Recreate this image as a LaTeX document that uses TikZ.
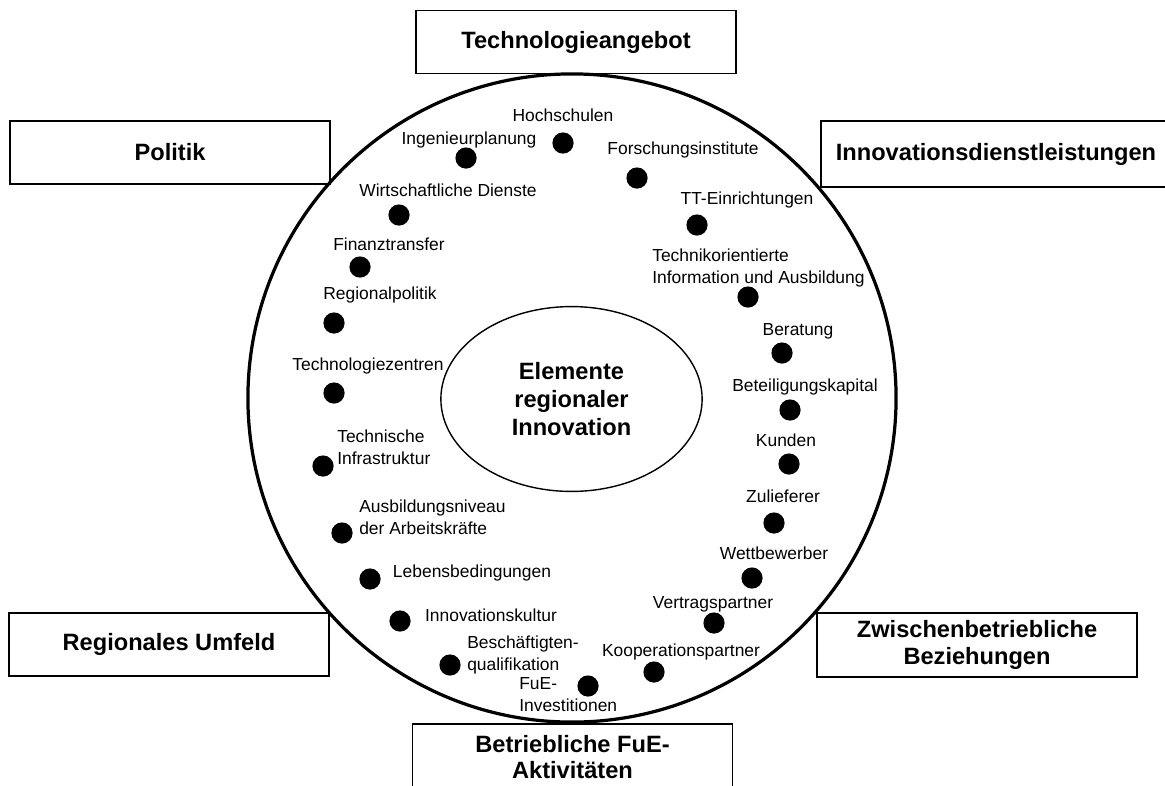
\documentclass[tikz,border=0pt]{standalone}
\usepackage{fontspec}
\setmainfont{Liberation Sans}
\usetikzlibrary{shapes.geometric}

\tikzset{
  dot/.style={circle,fill=black,inner sep=0pt,minimum size=0.53cm},
  lab/.style={inner sep=0pt,font=\fontsize{12.4}{15.6}\selectfont},
  box/.style={draw,line width=1.1pt,align=center,inner sep=0pt,
    minimum width=8cm,minimum height=1.57cm,
    font=\bfseries\fontsize{16.8}{18.8}\selectfont},
}

\begin{document}
\begin{tikzpicture}[x=0.025cm,y=-0.025cm]
\clip (0,0) rectangle (1165,785);
\fill[white] (0,0) rectangle (1165,785);
% big ring and centre
\node[circle,draw,line width=2.3pt,minimum size=16.2cm] (ring) at (572,398) {};
\node[ellipse,draw,line width=1pt,minimum width=6.53cm,minimum height=4.62cm,align=center,
  font=\bfseries\fontsize{16.8}{19.8}\selectfont] (core) at (571.5,399) {Elemente\\regionaler\\Innovation};
% outer boxes
\node[box] (tech) at (576,42) {Technologieangebot};
\node[box] (pol) at (170,152.5) {Politik};
\node[box,minimum width=8.75cm,minimum height=1.65cm] (idl) at (996,154) {Innovationsdienstleistungen};
\node[box] (umf) at (169,644.5) {Regionales Umfeld};
\node[box,minimum height=1.6cm] (zwb) at (977,645) {Zwischenbetriebliche\\Beziehungen};
\node[box,minimum height=1.65cm] (fue) at (572.5,757) {Betriebliche FuE-\\Aktivit\"aten};
%%%%%%%%%%%%%%%%%%%%%%%%%%%%%%
\node[dot] (dHoch) at (563,143) {};
\node[dot] (dIng) at (466,158) {};
\node[dot] (dForsch) at (637,178) {};
\node[dot] (dWirt) at (399,215) {};
\node[dot] (dTT) at (697,225) {};
\node[dot] (dFin) at (360,267) {};
\node[dot] (dTechInf) at (748,297) {};
\node[dot] (dRegpol) at (334,323) {};
\node[dot] (dBer) at (782,353) {};
\node[dot] (dTz) at (334,393) {};
\node[dot] (dBet) at (790,410) {};
\node[dot] (dInfra) at (323,466) {};
\node[dot] (dKun) at (789,464) {};
\node[dot] (dAusb) at (342,533) {};
\node[dot] (dZul) at (774,523) {};
\node[dot] (dWett) at (752,578) {};
\node[dot] (dLeb) at (370,579) {};
\node[dot] (dVert) at (714,623) {};
\node[dot] (dIkul) at (400,621) {};
\node[dot] (dBesch) at (450,665) {};
\node[dot] (dKoop) at (654,672) {};
\node[dot] (dFuE) at (588,686) {};
%%%%%%%%%%%%%%%%%%%%%%%%%%%%%%
\node[lab] (lHoch) at (563,115) {Hochschulen};
\node[lab] (lIng) at (469,140) {Ingenieurplanung};
\node[lab] (lForsch) at (683,150) {Forschungsinstitute};
\node[lab] (lWirt) at (448,190) {Wirtschaftliche Dienste};
\node[lab] (lTT) at (747,200) {TT-Einrichtungen};
\node[lab] (lFin) at (389,244) {Finanztransfer};
\node[lab,anchor=west,align=left] (lTechInf) at (652,268) {Technikorientierte\\Information und Ausbildung};
\node[lab] (lRegpol) at (380,295) {Regionalpolitik};
\node[lab] (lBer) at (798,331) {Beratung};
\node[lab] (lTz) at (368,366) {Technologiezentren};
\node[lab] (lBet) at (805,387) {Beteiligungskapital};
\node[lab,anchor=west,align=left] (lInfra) at (337,447) {Technische\\Infrastruktur};
\node[lab] (lKun) at (786,440) {Kunden};
\node[lab,anchor=west,align=left] (lAusb) at (359,517) {Ausbildungsniveau\\der Arbeitskr\"afte};
\node[lab] (lZul) at (783,496) {Zulieferer};
\node[lab] (lWett) at (774,553) {Wettbewerber};
\node[lab] (lLeb) at (472,573) {Lebensbedingungen};
\node[lab] (lVert) at (713,604) {Vertragspartner};
\node[lab] (lIkul) at (491,615) {Innovationskultur};
\node[lab,anchor=west,align=left] (lBesch) at (467,655) {Besch\"aftigten-\\qualifikation};
\node[lab] (lKoop) at (681,652) {Kooperationspartner};
\node[lab,anchor=west,align=left] (lFuE) at (519,695) {FuE-\\Investitionen};
\end{tikzpicture}
\end{document}
